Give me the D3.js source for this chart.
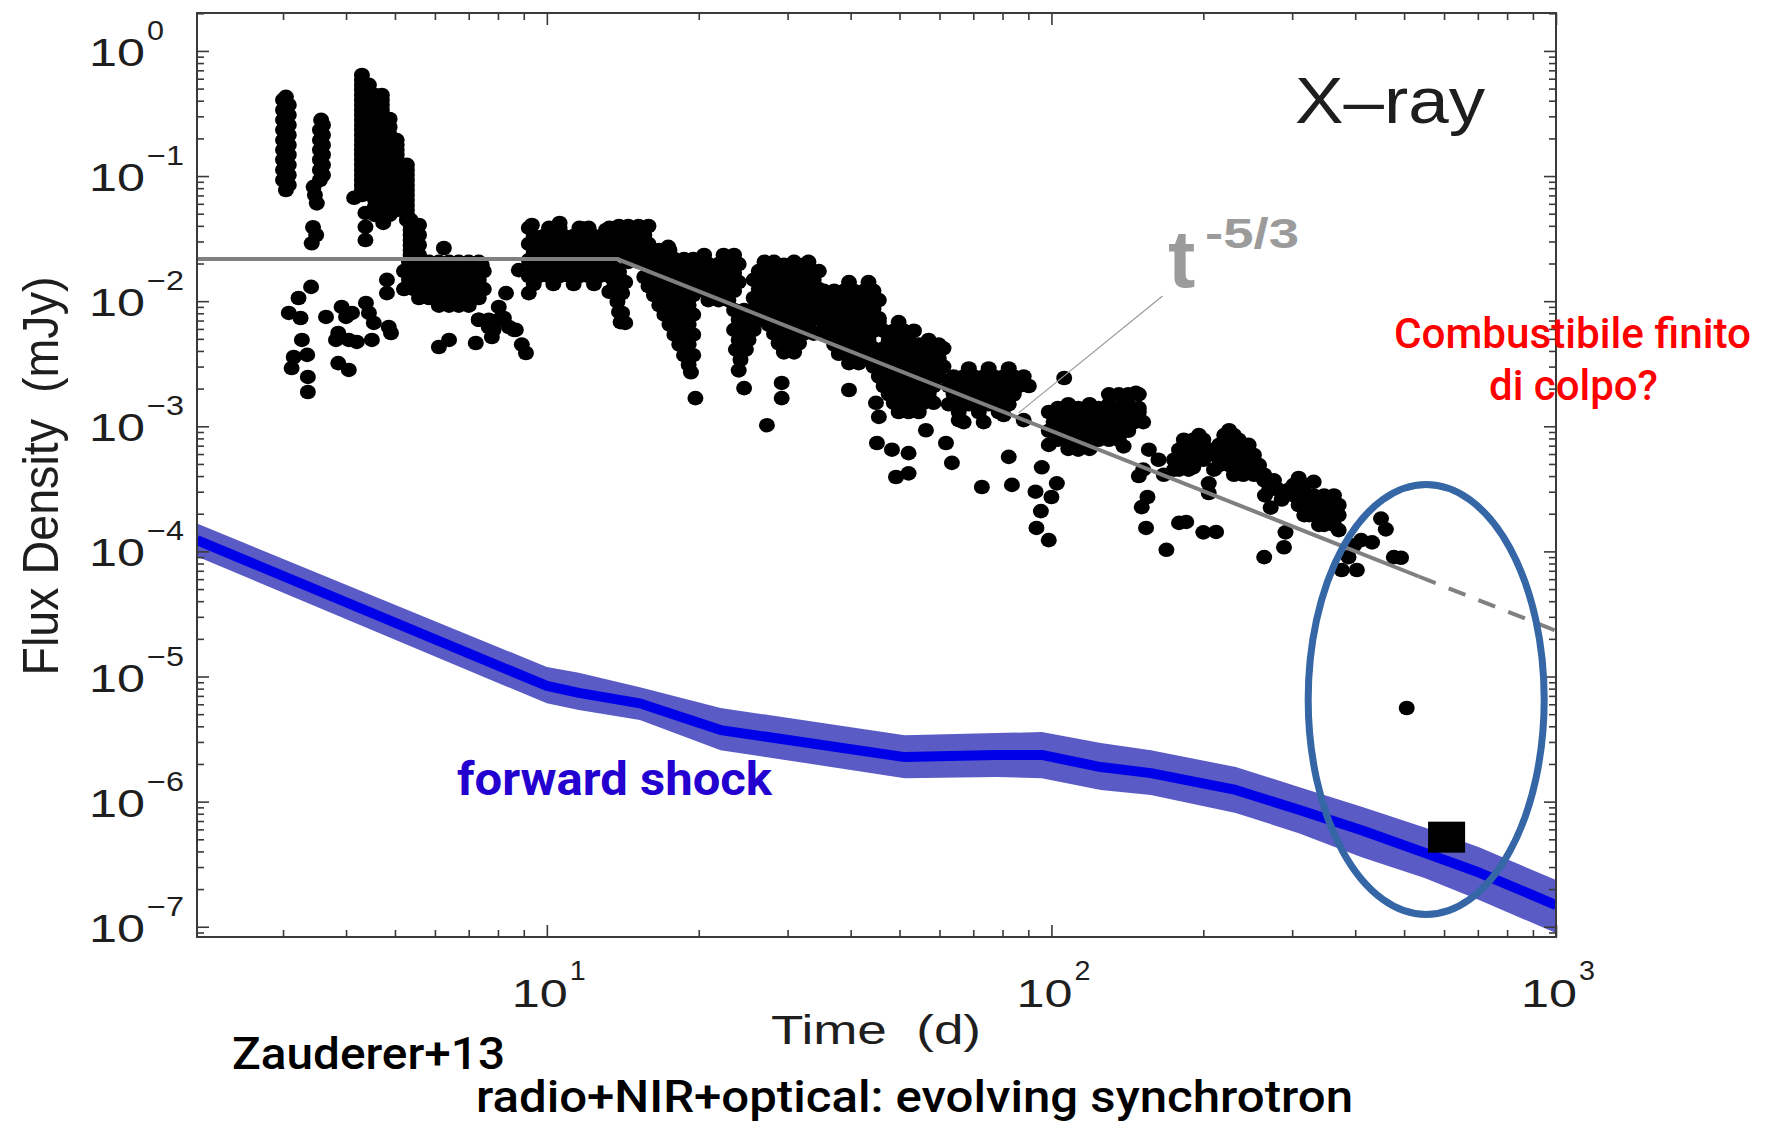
<!DOCTYPE html>
<html><head><meta charset="utf-8">
<script src="https://cdn.jsdelivr.net/npm/d3@7"></script>
<style>body{margin:0;background:#fff}svg{display:block}</style>
</head><body>
<svg id="c" width="1772" height="1129"></svg>
<script>
// ---------------- DATA ----------------
const xDomain = [2.026, 1000];
const yDomain = [8.28e-8, 2.01];
const xMajorTicks = [10, 100, 1000];
const yMajorTicks = [1, 1e-1, 1e-2, 1e-3, 1e-4, 1e-5, 1e-6, 1e-7];
const xTickExp = ["1", "2", "3"];
const yTickExp = ["0", "\u22121", "\u22122", "\u22123", "\u22124", "\u22125", "\u22126", "\u22127"];

// X-ray light curve, individual points [time (d), flux (mJy)]
const xrayEarly = [
 [3.04,0.43],[3.0,0.406],[3.08,0.37],[3.0,0.337],[3.08,0.308],[3.0,0.281],[3.08,0.256],[3.0,0.234],[3.08,0.213],[3.0,0.194],
 [3.08,0.177],[3.0,0.162],[3.08,0.148],[3.0,0.135],[3.08,0.123],[3.0,0.112],[3.08,0.102],[3.0,0.093],[3.08,0.085],[3.04,0.0774],
 [3.57,0.281],[3.6,0.256],[3.55,0.234],[3.6,0.213],[3.55,0.194],[3.6,0.177],[3.55,0.162],[3.6,0.148],[3.55,0.135],[3.6,0.123],
 [3.55,0.112],[3.6,0.102],[3.55,0.093],[3.45,0.082],[3.47,0.0706],[3.5,0.0605],[3.44,0.039],[3.49,0.0338],[3.42,0.029],
 [4.30,0.643],[4.30,0.587],[4.30,0.535],[4.30,0.49],[4.30,0.445],[4.30,0.406],[4.30,0.37],[4.30,0.337],[4.30,0.308],[4.30,0.281],
 [4.30,0.256],[4.30,0.234],[4.30,0.213],[4.30,0.194],[4.30,0.177],[4.30,0.162],[4.30,0.148],[4.30,0.135],[4.30,0.123],[4.30,0.112],
 [4.30,0.102],[4.30,0.093],[4.30,0.085],[4.30,0.0774],[4.30,0.0706],
 [4.44,0.535],[4.44,0.445],[4.44,0.37],[4.44,0.308],[4.44,0.256],[4.44,0.213],[4.44,0.177],[4.44,0.148],[4.44,0.123],[4.44,0.102],[4.44,0.085],
 [4.15,0.067],
 [4.56,0.445],[4.56,0.384],[4.56,0.331],[4.56,0.286],[4.56,0.247],[4.56,0.213],[4.56,0.184],[4.56,0.159],[4.56,0.137],[4.56,0.118],
 [4.56,0.102],[4.56,0.088],[4.56,0.076],[4.56,0.0656],[4.56,0.0566],[4.56,0.0489],
 [4.71,0.445],[4.71,0.406],[4.71,0.37],[4.71,0.337],[4.71,0.308],[4.71,0.281],[4.71,0.256],[4.71,0.234],[4.71,0.213],[4.71,0.194],
 [4.71,0.177],[4.71,0.162],[4.71,0.148],[4.71,0.135],[4.71,0.123],[4.71,0.112],[4.71,0.102],[4.71,0.093],[4.71,0.085],[4.71,0.0774],
 [4.71,0.0706],[4.71,0.0644],[4.71,0.0587],[4.71,0.0536],[4.71,0.0489],
 [4.88,0.286],[4.88,0.247],[4.88,0.213],[4.88,0.184],[4.88,0.159],[4.88,0.137],[4.88,0.118],[4.88,0.102],[4.88,0.088],[4.88,0.076],
 [4.88,0.0656],[4.88,0.0566],[4.88,0.0489],
 [5.04,0.194],[5.04,0.177],[5.04,0.162],[5.04,0.148],[5.04,0.135],[5.04,0.123],[5.04,0.112],[5.04,0.102],[5.04,0.093],[5.04,0.085],
 [5.04,0.0774],[5.04,0.0706],[5.04,0.0644],[5.04,0.0587],[5.04,0.0536],
 [5.28,0.123],[5.28,0.112],[5.28,0.102],[5.28,0.093],[5.28,0.085],[5.28,0.0774],[5.28,0.0706],[5.28,0.0644],[5.28,0.0587],[5.28,0.0536],[5.28,0.0489],[5.28,0.0446],
 [5.37,0.0446],[5.37,0.0406],[5.37,0.0371],[5.37,0.0338],[5.37,0.0308],[5.37,0.0281],[5.37,0.0256],[5.37,0.0234],[5.37,0.0213],
 [5.58,0.0406],[5.58,0.0338],[5.58,0.0281],[5.58,0.0234],
 [4.37,0.0507],[4.37,0.0393],[4.37,0.0308],[4.74,0.0422],
 [3.41,0.0130],[3.22,0.0106],[3.08,8.05e-3],[3.25,7.34e-3],[3.65,7.48e-3],[3.27,4.9e-3],[3.15,3.58e-3],[3.35,3.72e-3],[3.12,2.92e-3],
 [3.36,2.48e-3],[3.36,1.88e-3],[3.92,8.99e-3],[4.0,7.48e-3],[4.11,8.05e-3],[3.86,5.57e-3],[3.82,4.9e-3],[4.05,4.9e-3],[4.2,4.72e-3],
 [3.86,3.2e-3],[4.05,2.82e-3],[4.38,9.68e-3],[4.44,8.05e-3],[4.54,6.7e-3],[4.5,4.9e-3],[4.86,6.22e-3],[4.91,5.57e-3],[4.82,0.0148],[4.82,0.0116]
];
const xrayPlateau = [
 [6.25,0.0266],[6.11,4.3e-3],[6.4,4.9e-3],
 [7.33,7.1e-3],[7.67,6.22e-3],[8.3,0.0116],[8.03,8.99e-3],[7.23,4.63e-3],[7.78,5.17e-3],[8.41,6.22e-3],[8.68,5.9e-3],[8.92,4.5e-3],
 [9.09,3.85e-3],[8.8,0.0177],[9.21,0.0116],[8.22,7.34e-3],[7.84,5.9e-3],[8.6,5.9e-3],[7.43,0.0195],
 [9.34,0.0406],[10.6,0.0422],[11.8,0.038],[13.1,0.0371],
 [13.9,0.0156],[14.1,0.0116],[14.1,8.05e-3],[14.3,6.7e-3]
];
const xrayDecline = [
 [17.4,0.0272],[29.5,0.0195],[32.3,0.0195],
 [19.7,1.68e-3],[24.6,2.02e-3],[29.2,2.22e-3],[29.2,1.68e-3],[27.3,1.02e-3],[39.7,1.95e-3],
 [44.9,1.54e-3],[45.5,1.19e-3],[45.1,7.35e-4],[48.3,6.5e-4],[52.1,6.1e-4],[49.2,3.93e-4],[52.1,4.2e-4],[56.4,9.3e-4],[61.8,7.35e-4],[63.5,5.1e-4],
 [65.5,1.12e-3],[72.8,3.27e-4],[106,2.43e-3],[147,1.85e-3],[80.4,1.23e-3],[88.1,1.12e-3],
 [82.3,5.7e-4],[83.5,3.4e-4],[93,3.0e-4],[95.3,2.1e-4],[93.4,1.54e-4],[98.8,1.23e-4],[100,2.72e-4],[102.5,3.5e-4],[95.7,4.7e-4],
 [98.8,7.1e-4],[113,6.5e-4],[139,6.9e-4],
 [156,6.5e-4],[163,5.4e-4],[152,4.5e-4],[167,4.1e-4],
 [149,4.0e-4],[155,2.72e-4],[151,2.26e-4],[154,1.54e-4],[169,1.03e-4],[179,1.69e-4],[185,1.72e-4],
 [196,8.5e-4],[191,4.7e-4],[175,4.5e-4],
 [205,3.5e-4],[205,2.93e-4],[200,1.42e-4],[212,1.43e-4],
 [225,9.3e-4],[235,7.8e-4],[210,4.5e-4],
 [260,4.1e-4],[276,3.4e-4],[265,2.8e-4],[286,2.6e-4],[272,2.24e-4],
 [291,1.42e-4],[289,1.08e-4],[264,9e-5],
 [309,3.86e-4],[331,3.6e-4],[295,3.1e-4],[317,1.95e-4],[371,1.48e-4],[347,1.63e-4],
 [388,9e-5],[376,7.1e-5],[403,7.1e-5],[398,1.12e-4],
 [411,1.23e-4],[432,1.18e-4],
 [450,1.83e-4],[460,1.5e-4],
 [477,9e-5],[493,8.9e-5]
];
// dense parts of the X-ray light curve, read row by row: [flux (mJy), [times (d)]]
const xrayRowsPlateau = [
 [0.0206,[5.33,5.58,5.84,6.11,6.40,6.69,7.0,7.33]],
 [0.0174,[5.21,5.45,5.71,5.97,6.25,6.54,6.85,7.17,7.50]],
 [0.0148,[5.33,5.58,5.84,6.11,6.40,6.69,7.0,7.33]],
 [0.0125,[5.21,5.45,5.71,5.97,6.25,6.54,6.85,7.17,7.50]],
 [0.0106,[5.58,5.84,6.11,6.40,6.69,7.0,7.33]],
 [0.0092,[6.11,6.40,6.69,7.0]],
 [0.0071,[7.33,7.67,8.03]],
 [0.0385,[9.21,10.1,10.6,11.6,12.1,13.3]],
 [0.0332,[9.42,9.86,10.3,10.8,11.3,11.8,12.4,13.0,13.6]],
 [0.0287,[9.21,9.64,10.1,10.6,11.1,11.6,12.1,12.7,13.3]],
 [0.0247,[9.42,9.86,10.3,10.8,11.3,11.8,12.4,13.0,13.6]],
 [0.0213,[9.21,9.64,10.1,10.6,11.1,11.6,12.1,12.7,13.3]],
 [0.0184,[9.42,9.86,10.3,10.8,11.3,11.8,12.4,13.0,13.6]],
 [0.0159,[9.21,9.64,10.1,10.6,11.1,11.6,12.1,12.7,13.3]],
 [0.0137,[9.42,10.3,11.3,12.4]]
];
const xrayRowsDecline = [
 [0.0399,[13.9,14.5,15.2,15.9]],[0.0338,[14.3,14.8,15.6]],[0.0287,[13.9,14.5,15.2,15.9]],
 [0.0243,[14.3,14.8,15.6,16.3]],[0.0206,[14.5,15.2,15.9,16.7]],
 [0.0171,[13.3,13.9]],[0.0142,[13.6,14.3]],[0.0119,[13.3,14.0]],[0.0099,[13.8]],[0.0082,[13.9]],[0.0068,[14.0]],
 [0.0256,[16.7,17.5]],[0.0217,[15.6,16.3,17.1,17.9,18.7,19.5]],[0.0184,[15.9,16.7,17.5,18.3,19.1,20.0]],
 [0.0156,[15.6,16.3,17.1,17.9,18.7,19.5,20.5]],[0.0132,[15.9,16.7,17.5,18.3,19.1,20.0,20.9]],
 [0.0112,[16.3,17.1,17.9,18.7,19.5]],[0.0093,[16.7,17.5,18.3,19.1]],[0.0078,[17.1,17.9,18.7,19.5]],
 [0.0065,[17.5,18.3,19.1]],[0.0054,[17.9,18.7,19.5]],[0.0045,[18.3,19.1]],[0.0037,[18.7,19.5]],[0.0031,[19.1]],[0.0027,[19.3]],
 [0.0234,[20.5,22.4,23.5]],[0.0198,[20.0,20.9,21.9,22.9,24.0]],[0.0168,[20.5,21.4,22.4,23.5]],
 [0.0142,[20.0,20.9,21.9,22.9,24.0]],[0.0121,[20.5,21.4,22.4,23.5]],[0.0102,[20.9,21.9,22.9]],
 [0.0085,[23.5,24.6,25.7]],[0.0071,[24.0,25.1,26.3]],[0.0059,[23.5,24.6,25.7]],[0.0049,[24.0,25.1]],
 [0.0041,[23.7,24.8]],[0.0034,[24.2]],[0.0028,[24.0]],
 [0.0206,[27.0,28.2,30.9,33.0]],[0.0174,[26.3,27.5,28.8,30.2,31.6,33.0,34.6]],
 [0.0148,[25.7,27.0,28.2,29.5,30.9,32.3,33.8]],[0.0125,[26.3,27.5,28.8,30.2,31.6,33.0,34.6]],
 [0.0106,[25.7,27.0,28.2,29.5,30.9,32.3,33.8]],[0.009,[26.3,27.5,28.8,30.2,31.6,33.0,34.6]],
 [0.0076,[27.0,28.2,29.5,30.9,32.3,33.8]],[0.0065,[27.5,28.8,30.2,31.6,33.0]],
 [0.0055,[28.2,29.5,30.9,32.3,33.8]],[0.0046,[28.8,30.2,31.6]],[0.0039,[29.5,30.9]],
 [0.0142,[39.7,43.4]],[0.0121,[35.4,37.1,38.8,40.6,42.5,44.4]],[0.0102,[34.6,36.2,37.9,39.7,41.5,43.4,45.5]],
 [0.0087,[35.4,37.1,38.8,40.6,42.5,44.4]],[0.0073,[34.6,36.2,37.9,39.7,41.5,43.4,45.5]],
 [0.0062,[35.4,37.1,38.8,40.6,42.5,44.4]],[0.0053,[36.2,37.9,39.7,41.5,43.4]],[0.0045,[37.1,38.8,40.6,42.5]],
 [0.0038,[37.9,39.7,41.5]],[0.0032,[39.7,41.5]],
 [0.0068,[45.5,49.8]],[0.0058,[44.4,46.5,48.7,51.0,53.4]],[0.0049,[43.4,47.6,49.8,52.1,57.1]],[0.0045,[54.6,59.8]],
 [0.0042,[44.4,46.5,48.7,51.0,53.4,55.8,58.4,61.1]],[0.0035,[43.4,45.5,47.6,49.8,52.1,54.6,57.1,59.8]],
 [0.003,[44.4,46.5,48.7,51.0,53.4,55.8,58.4,61.1]],[0.0025,[45.5,47.6,49.8,52.1,54.6,57.1,59.8]],
 [0.0021,[46.5,48.7,51.0,53.4,55.8,58.4]],[0.0018,[47.6,49.8,52.1,54.6,57.1]],[0.00154,[48.7,51.0,53.4,55.8,58.4]],
 [0.0013,[49.8,52.1,54.6]],
 [0.0029,[68.6,75.1,82.3]],[0.0025,[64.0,67.0,70.2,73.4,76.9,80.4,84.2,88.1]],
 [0.0021,[62.6,65.5,68.6,71.8,75.1,78.6,82.3,86.1,90.2]],[0.0018,[64.0,67.0,70.2,73.4,76.9,80.4,84.2]],
 [0.0015,[62.6,65.5,68.6,71.8,75.1,78.6,82.3]],[0.0013,[65.5,71.8,78.6]],[0.00108,[67.0,73.4]],
 [0.0018,[130,136,142,149]],[0.0015,[108,119,130,142]],[0.0014,[103,113,124,136,149]],
 [0.0013,[98.8,103,108,113,119,124,130,136,142,149]],[0.00108,[101,106,111,116,121,127,133,139,146,152]],
 [9.2e-4,[98.8,103,108,113,119,124,130,136,142]],[7.8e-4,[103,108,113,119,124,130,136]],[6.6e-4,[108,119]],
 [7.8e-4,[183,191,200]],[6.5e-4,[179,187,196,205]],[5.4e-4,[175,183,191,200]],[4.5e-4,[179,187]],
 [8.5e-4,[220,230]],[7.1e-4,[215,225,235,246]],[5.9e-4,[210,220,230,240,252]],[4.9e-4,[215,225,235,246,258]],
 [4.1e-4,[230,240,252,264]],[3.7e-4,[264,276]],[3.1e-4,[270,282]],
 [3.4e-4,[302,317]],[2.8e-4,[302,317,331,347,363]],[2.35e-4,[309,324,339,355,371]],[1.95e-4,[324,339,355,371]],[1.63e-4,[339,363]]
];
const xrayLate = [[506, 5.6e-6]];
const radioSquare = [[607, 5.2e-7]];

// power-law model t^-5/3 (plateau, decline, extrapolation)
const modelTime = [2.026, 13.8, 535];
const modelFlux = [0.0217, 0.0217, 6.3e-5];
const modelExtTime = [535, 1000];
const modelExtFlux = [6.3e-5, 2.32e-5];

// forward shock model with uncertainty band
const bandTime   = [2.026, 10, 11.57, 15.29, 22.1, 51.2, 77.6, 95.7, 125.3, 157.4, 231.9, 309.2, 412, 549, 706, 1000];
const bandCenter = [1.23e-4, 8.4e-6, 7.4e-6, 6.1e-6, 3.73e-6, 2.27e-6, 2.36e-6, 2.36e-6, 1.89e-6, 1.69e-6, 1.24e-6, 8.6e-7, 5.9e-7, 3.9e-7, 2.7e-7, 1.49e-7];
const bandUpper  = [1.67e-4, 1.19e-5, 1.07e-5, 8.2e-6, 5.6e-6, 3.4e-6, 3.53e-6, 3.6e-6, 2.94e-6, 2.58e-6, 1.89e-6, 1.31e-6, 9.1e-7, 6.2e-7, 4.3e-7, 2.36e-7];
const bandLower  = [9.1e-5, 6.1e-6, 5.4e-6, 4.5e-6, 2.58e-6, 1.54e-6, 1.57e-6, 1.54e-6, 1.24e-6, 1.13e-6, 8.1e-7, 5.6e-7, 3.6e-7, 2.45e-7, 1.63e-7, 8.9e-8];

// annotations anchored in data space
const leaderLine = [[166, 0.011], [86.1, 1.28e-3]];
const circledRegion = {t: 553, f: 6.55e-6};

// ---------------- DRAW ----------------
const L = 197, R = 1556, T = 13, B = 937;
const svg = d3.select('#c');
const x = d3.scaleLog().domain(xDomain).range([L, R]);
const y = d3.scaleLog().domain(yDomain).range([B, T]);
const axisFont = '"Liberation Sans", Arial, Helvetica, sans-serif';
const annoFont = 'Roboto, "Noto Sans", sans-serif';

svg.append('rect').attr('width', 1772).attr('height', 1129).attr('fill', '#fff');
svg.append('defs').append('clipPath').attr('id', 'clip')
  .append('rect').attr('x', L).attr('y', T).attr('width', R - L).attr('height', B - T);
const plot = svg.append('g').attr('clip-path', 'url(#clip)');

// band
const bandData = bandTime.map((t, i) => ({t, lo: bandLower[i], hi: bandUpper[i], c: bandCenter[i]}));
plot.append('path').datum(bandData)
  .attr('d', d3.area().x(d => x(d.t)).y0(d => y(d.lo)).y1(d => y(d.hi)))
  .attr('fill', '#5b5bc6');
plot.append('path').datum(bandData)
  .attr('d', d3.line().x(d => x(d.t)).y(d => y(d.c)))
  .attr('fill', 'none').attr('stroke', '#0000e8').attr('stroke-width', 10).attr('stroke-linejoin', 'round');

// scatter
const rowPts = xrayRowsPlateau.concat(xrayRowsDecline).flatMap(([f, ts]) => ts.map(t => [t, f]));
const allX = xrayEarly.concat(xrayPlateau, rowPts, xrayDecline, xrayLate);
plot.append('g').selectAll('ellipse').data(allX).join('ellipse')
  .attr('cx', d => x(d[0])).attr('cy', d => y(d[1]))
  .attr('rx', 8).attr('ry', 7.3).attr('fill', '#000');

// square
plot.append('g').selectAll('rect').data(radioSquare).join('rect')
  .attr('x', d => x(d[0]) - 18.5).attr('y', d => y(d[1]) - 15.5)
  .attr('width', 37).attr('height', 31).attr('fill', '#000');

// model line
const ml = d3.line().x(d => x(d[0])).y(d => y(d[1]));
plot.append('path').datum(modelTime.map((t, i) => [t, modelFlux[i]]))
  .attr('d', ml).attr('fill', 'none').attr('stroke', '#808080').attr('stroke-width', 4);
plot.append('path').datum(modelExtTime.map((t, i) => [t, modelExtFlux[i]]))
  .attr('d', ml).attr('fill', 'none').attr('stroke', '#808080').attr('stroke-width', 4)
  .attr('stroke-dasharray', '18,14');

// leader line
svg.append('path').datum(leaderLine).attr('d', ml)
  .attr('fill', 'none').attr('stroke', '#9a9a9a').attr('stroke-width', 1.2);

// axes
function minorTicks(lo, hi) {
  const out = [];
  for (let e = -9; e <= 4; e++) for (let m = 2; m <= 9; m++) {
    const v = m * Math.pow(10, e);
    if (v > lo && v < hi) out.push(v);
  }
  return out;
}
const xMinor = minorTicks(xDomain[0], xDomain[1]);
const yMinor = minorTicks(yDomain[0], yDomain[1]);
function addAxis(gen, scale, tr, major, minor) {
  const g1 = svg.append('g').attr('transform', tr)
    .call(gen(scale).tickValues(major).tickSizeInner(-12).tickSizeOuter(0).tickFormat(''));
  const g2 = svg.append('g').attr('transform', tr)
    .call(gen(scale).tickValues(minor).tickSizeInner(-7).tickSizeOuter(0).tickFormat(''));
  [g1, g2].forEach(g => {
    g.select('.domain').remove();
    g.selectAll('line').attr('stroke', '#3a3a3a').attr('stroke-width', 1.6);
  });
}
addAxis(d3.axisBottom, x, `translate(0,${B})`, xMajorTicks, xMinor);
addAxis(d3.axisTop, x, `translate(0,${T})`, xMajorTicks, xMinor);
addAxis(d3.axisLeft, y, `translate(${L},0)`, yMajorTicks, yMinor);
addAxis(d3.axisRight, y, `translate(${R},0)`, yMajorTicks, yMinor);
svg.append('rect').attr('x', L).attr('y', T).attr('width', R - L).attr('height', B - T)
  .attr('fill', 'none').attr('stroke', '#3a3a3a').attr('stroke-width', 2);

// tick labels
const lab = svg.append('g').attr('font-family', axisFont).attr('fill', '#1e1e1e');
yMajorTicks.forEach((v, i) => {
  const ty = y(v);
  lab.append('text').attr('x', 89).attr('y', ty + 15).attr('font-size', 38)
    .attr('textLength', 56).attr('lengthAdjust', 'spacingAndGlyphs').text('10');
  lab.append('text').attr('x', 147).attr('y', ty - 11).attr('font-size', 27)
    .attr('textLength', yTickExp[i].length > 1 ? 37 : 17).attr('lengthAdjust', 'spacingAndGlyphs').text(yTickExp[i]);
});
xMajorTicks.forEach((v, i) => {
  const tx = x(v);
  lab.append('text').attr('x', tx - 35).attr('y', 1007).attr('font-size', 38)
    .attr('textLength', 56).attr('lengthAdjust', 'spacingAndGlyphs').text('10');
  lab.append('text').attr('x', tx + 23).attr('y', 980).attr('font-size', 27)
    .attr('textLength', 16).attr('lengthAdjust', 'spacingAndGlyphs').text(xTickExp[i]);
});

// axis titles
lab.append('text').attr('transform', 'translate(58,476) rotate(-90)').attr('text-anchor', 'middle')
  .attr('font-size', 50).attr('textLength', 399).attr('lengthAdjust', 'spacingAndGlyphs')
  .style('white-space', 'pre').text('Flux Density  (mJy)');
lab.append('text').attr('x', 771).attr('y', 1044).attr('font-size', 40)
  .attr('textLength', 210).attr('lengthAdjust', 'spacingAndGlyphs')
  .style('white-space', 'pre').text('Time  (d)');
lab.append('text').attr('x', 1295).attr('y', 123).attr('font-size', 64)
  .attr('textLength', 190).attr('lengthAdjust', 'spacingAndGlyphs').text('X\u2013ray');

// t^-5/3 label
const tl = svg.append('g').attr('font-family', '"Liberation Sans", Arial, sans-serif').attr('font-weight', 'bold').attr('fill', '#9b9b9b');
tl.append('text').attr('x', 1168).attr('y', 287).attr('font-size', 82).text('t');
tl.append('text').attr('x', 1205).attr('y', 248).attr('font-size', 42)
  .attr('textLength', 94).attr('lengthAdjust', 'spacingAndGlyphs').text('-5/3');

// ellipse
svg.append('ellipse').attr('cx', x(circledRegion.t)).attr('cy', y(circledRegion.f))
  .attr('rx', 118).attr('ry', 215).attr('fill', 'none').attr('stroke', '#3566a6').attr('stroke-width', 7);

// annotation texts
const an = svg.append('g').attr('font-family', annoFont);
an.append('text').attr('x', 457).attr('y', 795).attr('font-size', 46).attr('font-weight', 700)
  .attr('fill', '#2300cf').attr('textLength', 315).attr('lengthAdjust', 'spacingAndGlyphs').text('forward shock');
an.append('text').attr('x', 1394).attr('y', 348).attr('font-size', 42).attr('font-weight', 500)
  .attr('fill', '#ff0000').attr('textLength', 357).attr('lengthAdjust', 'spacingAndGlyphs').text('Combustibile finito');
an.append('text').attr('x', 1489).attr('y', 400).attr('font-size', 42).attr('font-weight', 500)
  .attr('fill', '#ff0000').attr('textLength', 169).attr('lengthAdjust', 'spacingAndGlyphs').text('di colpo?');
an.append('text').attr('x', 232).attr('y', 1069).attr('font-size', 44).attr('font-weight', 500)
  .attr('fill', '#000').attr('textLength', 273).attr('lengthAdjust', 'spacingAndGlyphs').text('Zauderer+13');
an.append('text').attr('x', 476).attr('y', 1112).attr('font-size', 44).attr('font-weight', 500)
  .attr('fill', '#000').attr('textLength', 877).attr('lengthAdjust', 'spacingAndGlyphs').text('radio+NIR+optical: evolving synchrotron');
</script>
</body></html>
